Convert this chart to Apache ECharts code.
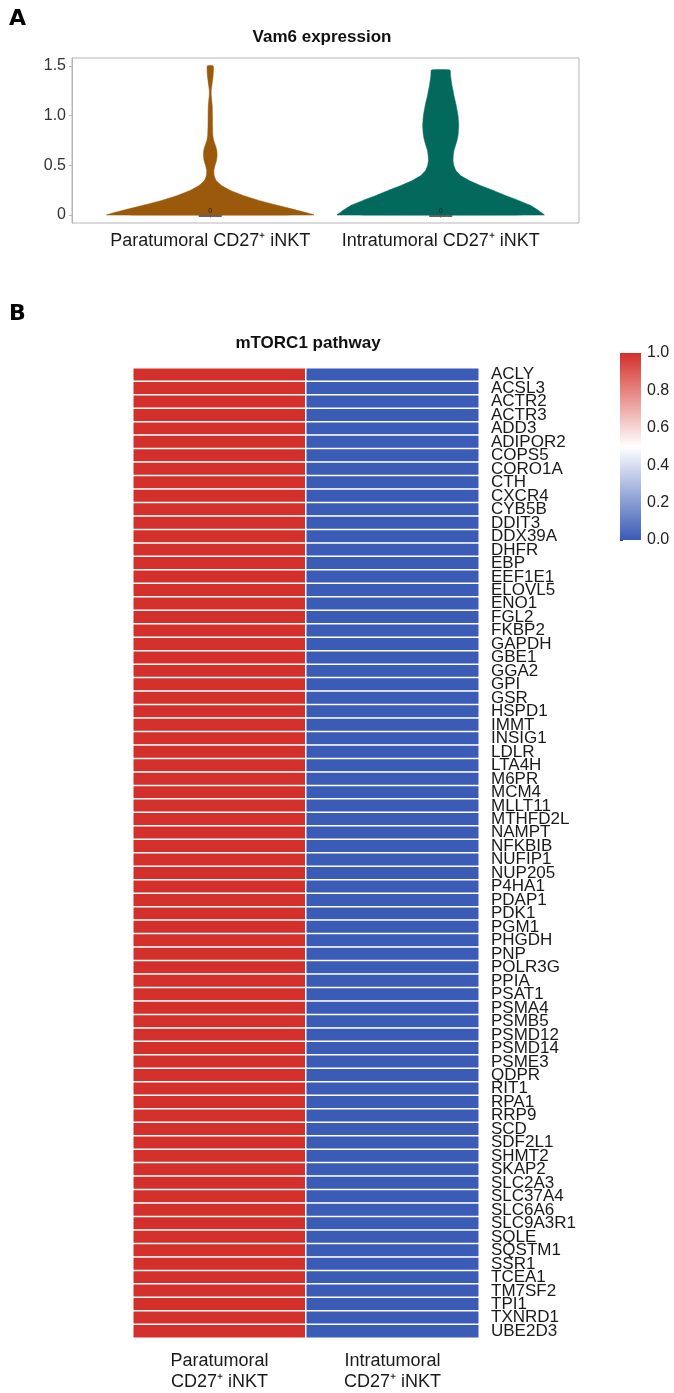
<!DOCTYPE html>
<html><head><meta charset="utf-8">
<script src="https://cdn.jsdelivr.net/npm/echarts@6/dist/echarts.min.js"></script>
<style>html,body{margin:0;padding:0;background:#fff}#c{width:674px;height:1393px}</style>
</head><body><div id="c"></div>
<script>
// ---------- Panel A data ----------
const violinGroups = ['Paratumoral CD27⁺ iNKT', 'Intratumoral CD27⁺ iNKT'];
const violinPositions = [1, 2];
const paraLevels  = [0, 0.02, 0.05, 0.1, 0.15, 0.2, 0.25, 0.3, 0.35, 0.4, 0.45, 0.5, 0.55, 0.6, 0.65, 0.7, 0.75, 0.8, 0.9, 1.0, 1.1, 1.2, 1.25, 1.3, 1.4, 1.5];
const paraDensity = [1.00, 0.94, 0.83, 0.64, 0.46, 0.31, 0.19, 0.105, 0.055, 0.037, 0.035, 0.046, 0.060, 0.066, 0.063, 0.050, 0.033, 0.025, 0.022, 0.021, 0.019, 0.010, 0.009, 0.015, 0.027, 0.029];
const intraLevels  = [0, 0.02, 0.05, 0.1, 0.15, 0.2, 0.25, 0.3, 0.35, 0.4, 0.45, 0.5, 0.55, 0.6, 0.65, 0.7, 0.75, 0.8, 0.9, 1.0, 1.1, 1.2, 1.25, 1.3, 1.4, 1.46];
const intraDensity = [1.00, 0.976, 0.937, 0.86, 0.744, 0.618, 0.502, 0.377, 0.27, 0.188, 0.145, 0.126, 0.119, 0.121, 0.128, 0.143, 0.157, 0.167, 0.174, 0.167, 0.15, 0.128, 0.119, 0.109, 0.095, 0.089];
const groupMedians = [0, 0];
const violinYTicks = [0, 0.5, 1.0, 1.5];

// ---------- Panel B data ----------
const heatmapGroups = ['Paratumoral\nCD27⁺ iNKT', 'Intratumoral\nCD27⁺ iNKT'];
const genes = ['ACLY','ACSL3','ACTR2','ACTR3','ADD3','ADIPOR2','COPS5','CORO1A','CTH','CXCR4','CYB5B','DDIT3','DDX39A','DHFR','EBP','EEF1E1','ELOVL5','ENO1','FGL2','FKBP2','GAPDH','GBE1','GGA2','GPI','GSR','HSPD1','IMMT','INSIG1','LDLR','LTA4H','M6PR','MCM4','MLLT11','MTHFD2L','NAMPT','NFKBIB','NUFIP1','NUP205','P4HA1','PDAP1','PDK1','PGM1','PHGDH','PNP','POLR3G','PPIA','PSAT1','PSMA4','PSMB5','PSMD12','PSMD14','PSME3','QDPR','RIT1','RPA1','RRP9','SCD','SDF2L1','SHMT2','SKAP2','SLC2A3','SLC37A4','SLC6A6','SLC9A3R1','SQLE','SQSTM1','SSR1','TCEA1','TM7SF2','TPI1','TXNRD1','UBE2D3'];
const paraScores = [1,1,1,1,1,1,1,1,1,1,1,1,1,1,1,1,1,1,1,1,1,1,1,1,1,1,1,1,1,1,1,1,1,1,1,1,1,1,1,1,1,1,1,1,1,1,1,1,1,1,1,1,1,1,1,1,1,1,1,1,1,1,1,1,1,1,1,1,1,1,1,1];
const intraScores = [0,0,0,0,0,0,0,0,0,0,0,0,0,0,0,0,0,0,0,0,0,0,0,0,0,0,0,0,0,0,0,0,0,0,0,0,0,0,0,0,0,0,0,0,0,0,0,0,0,0,0,0,0,0,0,0,0,0,0,0,0,0,0,0,0,0,0,0,0,0,0,0];
const colorbarTicks = [0, 0.2, 0.4, 0.6, 0.8, 1.0];

const FONT = '"Liberation Sans", Arial, Helvetica, sans-serif';
const violinColors = ['#9a590b', '#03695c'];
const heatColors = ['#3a5bb6', '#ffffff', '#d3302b'];
const HALF_WIDTH = 0.45;

const levelsByGroup = [paraLevels, intraLevels];
const densityByGroup = [paraDensity, intraDensity];

const heatData = [];
genes.forEach((g, i) => {
  heatData.push([0, i, paraScores[i]]);
  heatData.push([1, i, intraScores[i]]);
});

const chart = echarts.init(document.getElementById('c'), null, {renderer: 'canvas'});

const option = {
  backgroundColor: '#ffffff',
  animation: false,
  textStyle: {fontFamily: FONT},
  grid: [
    {left: 72, top: 58, width: 507, height: 165, show: true, borderColor: '#b5b5b5', borderWidth: 1, backgroundColor: 'transparent'},
    {left: 133, top: 368, width: 346, height: 973},
    {left: 620, top: 353, width: 21, height: 187}
  ],
  xAxis: [
    {gridIndex: 0, type: 'value', min: 0.4, max: 2.6,
     axisLine: {show: false}, splitLine: {show: false},
     axisTick: {show: true, length: 3, lineStyle: {color: '#b5b5b5'}, customValues: violinPositions},
     axisLabel: {customValues: violinPositions, formatter: v => violinGroups[Math.round(v) - 1] || '',
                 fontSize: 18, color: '#1a1a1a', margin: 9, fontFamily: FONT}},
    {gridIndex: 1, type: 'category', data: heatmapGroups, position: 'bottom',
     axisLine: {show: false}, axisTick: {show: false}, splitLine: {show: false},
     axisLabel: {fontSize: 18, lineHeight: 21, color: '#1a1a1a', margin: 13, fontFamily: FONT}},
    {gridIndex: 2, type: 'value', min: 0, max: 1, show: false}
  ],
  yAxis: [
    {gridIndex: 0, type: 'value', min: -0.08, max: 1.58,
     axisLine: {show: true, lineStyle: {color: '#b5b5b5'}}, splitLine: {show: false},
     axisTick: {show: true, length: 3, lineStyle: {color: '#b5b5b5'}, customValues: violinYTicks},
     axisLabel: {customValues: violinYTicks, formatter: v => (v === 0 ? '0' : v.toFixed(1)),
                 fontSize: 16, color: '#333333', margin: 6, fontFamily: FONT}},
    {gridIndex: 1, type: 'category', data: genes, inverse: true, position: 'right',
     axisLine: {show: false}, axisTick: {show: false}, splitLine: {show: false},
     axisLabel: {fontSize: 17, color: '#1a1a1a', margin: 12, interval: 0, fontFamily: FONT}},
    {gridIndex: 2, type: 'value', min: 0, max: 1, interval: 0.2, position: 'right',
     axisLine: {show: false}, splitLine: {show: false},
     axisTick: {show: true, length: 3, lineStyle: {color: '#444'}},
     axisLabel: {formatter: v => v.toFixed(1), fontSize: 16, color: '#222', margin: 6, fontFamily: FONT}}
  ],
  visualMap: {
    type: 'continuous', min: 0, max: 1, show: false, seriesIndex: 1, dimension: 2,
    inRange: {color: heatColors}
  },
  series: [
    {
      type: 'custom', xAxisIndex: 0, yAxisIndex: 0,
      data: violinPositions.map((p, i) => [p, groupMedians[i]]),
      renderItem: function (params, api) {
        const gi = params.dataIndex;
        const cx = api.value(0);
        const med = api.value(1);
        const lv = levelsByGroup[gi], dn = densityByGroup[gi];
        const pts = [];
        for (let k = 0; k < lv.length; k++) pts.push(api.coord([cx + dn[k] * HALF_WIDTH, lv[k]]));
        for (let k = lv.length - 1; k >= 0; k--) pts.push(api.coord([cx - dn[k] * HALF_WIDTH, lv[k]]));
        const b0 = api.coord([cx - 0.05, med]);
        const b1 = api.coord([cx + 0.05, med]);
        const lab = api.coord([cx, med + 0.045]);
        return {
          type: 'group',
          children: [
            {type: 'polygon', shape: {points: pts, smooth: 0.15}, style: {fill: violinColors[gi], stroke: violinColors[gi], lineWidth: 0.5}},
            {type: 'line', shape: {x1: b0[0], y1: b0[1] + 1, x2: b1[0], y2: b1[1] + 1}, style: {stroke: '#4a4a4a', lineWidth: 1.6}},
            {type: 'text', style: {x: lab[0], y: lab[1], text: String(med), fontSize: 7, fill: '#222', align: 'center', verticalAlign: 'middle', fontFamily: FONT}}
          ]
        };
      }
    },
    {
      type: 'heatmap', xAxisIndex: 1, yAxisIndex: 1, data: heatData,
      itemStyle: {borderColor: '#ffffff', borderWidth: 1.5},
      emphasis: {disabled: true}
    },
    {
      type: 'custom', xAxisIndex: 2, yAxisIndex: 2, data: [[0, 0]],
      renderItem: function (params, api) {
        const tl = api.coord([0, 1]);
        const br = api.coord([1, 0]);
        return {
          type: 'rect',
          shape: {x: tl[0], y: tl[1], width: br[0] - tl[0], height: br[1] - tl[1]},
          style: {fill: new echarts.graphic.LinearGradient(0, 0, 0, 1, [
            {offset: 0, color: heatColors[2]},
            {offset: 0.5, color: heatColors[1]},
            {offset: 1, color: heatColors[0]}
          ])}
        };
      }
    }
  ],
  graphic: [
    {type: 'text', left: 9, top: 8, style: {text: 'A', fontSize: 22, fontWeight: 900, fill: '#000', fontFamily: '"DejaVu Sans", Arial, sans-serif'}},
    {type: 'text', left: 9, top: 303, style: {text: 'B', fontSize: 22, fontWeight: 900, fill: '#000', fontFamily: '"DejaVu Sans", Arial, sans-serif'}},
    {type: 'text', x: 322, y: 37, style: {text: 'Vam6 expression', fontSize: 17, fontWeight: 'bold', fill: '#111', align: 'center', verticalAlign: 'middle', fontFamily: FONT}},
    {type: 'text', x: 308, y: 343, style: {text: 'mTORC1 pathway', fontSize: 17, fontWeight: 'bold', fill: '#111', align: 'center', verticalAlign: 'middle', fontFamily: FONT}}
  ]
};
chart.setOption(option);
</script>
</body></html>
